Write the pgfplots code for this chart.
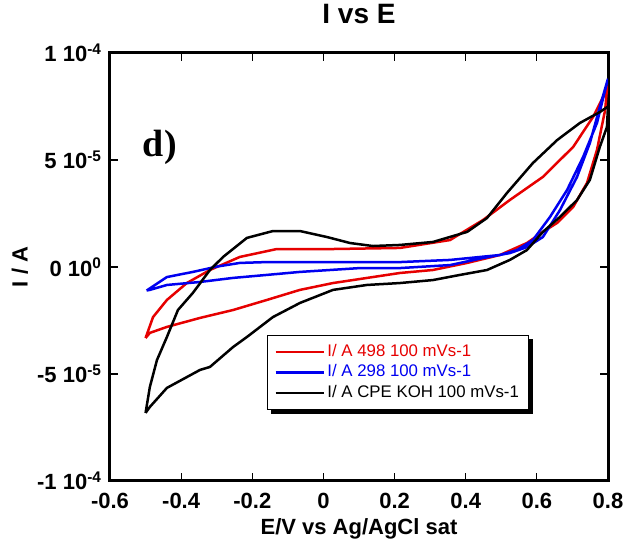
\documentclass[border=0pt]{standalone}
\usepackage{fontspec}
\setmainfont{Liberation Sans}
\newfontfamily\serifb{Liberation Serif}
\usepackage{pgfplots}
\pgfplotsset{compat=1.18}
\usetikzlibrary{calc,backgrounds}
\definecolor{cvred}{RGB}{230,0,0}
\definecolor{cvblue}{RGB}{0,0,240}
\begin{document}
\begin{tikzpicture}
\begin{axis}[
  scale only axis, width=498pt, height=428pt,
  xmin=-0.6, xmax=0.8, ymin=-1e-4, ymax=1e-4,
  xtick={-0.6,-0.4,-0.2,0,0.2,0.4,0.6,0.8},
  xticklabels={-0.6,-0.4,-0.2,0,0.2,0.4,0.6,0.8},
  ytick={-1e-4,-5e-5,0,5e-5,1e-4},
  yticklabels={-1 10\textsuperscript{-4},-5 10\textsuperscript{-5},0 10\textsuperscript{0},5 10\textsuperscript{-5},1 10\textsuperscript{-4}},
  scaled ticks=false,
  tick align=inside, major tick length=8pt,
  every tick/.style={black, line width=1.2pt},
  axis line style={line width=3pt},
  ticklabel style={font=\bfseries\fontsize{22}{22}\selectfont},
  xticklabel style={anchor=base, yshift=-28pt},
  yticklabel style={xshift=-5pt},
  title={\fontsize{28}{28}\selectfont\bfseries I vs E},
  title style={at={(rel axis cs:0.5,1)}, anchor=base, yshift=23pt},
  xlabel={E/V vs Ag/AgCl sat},
  ylabel={I / A},
  xlabel style={font=\bfseries\fontsize{22}{22}\selectfont, at={(rel axis cs:0.5,0)}, anchor=base, yshift=-54pt},
  ylabel style={font=\bfseries\fontsize{22}{22}\selectfont, at={(rel axis cs:0,0.5)}, anchor=center, yshift=90pt},
  legend cell align=left,
  legend style={at={(rel axis cs:0.315,0.341)}, anchor=north west, draw=black, line width=1.2pt,
    fill=white, name=leg,
    font=\fontsize{16.8}{16.8}\selectfont, row sep=0pt, inner xsep=7pt, inner ysep=6pt,
    nodes={inner sep=2.5pt, text height=12pt, text depth=3.5pt}},
  legend image code/.code={\draw[#1, line width=2.5pt] (0pt,0pt) -- (48pt,0pt);},
]
\coordinate (SW) at (rel axis cs:0,0);
\coordinate (NE) at (rel axis cs:1,1);
\addplot[cvred, line width=2.5pt] coordinates {
(-0.500,-3.32e-5) (-0.479,-2.34e-5) (-0.440,-1.54e-5) (-0.384,-0.75e-5) (-0.319,-0.14e-5) (-0.235,0.47e-5) (-0.131,0.84e-5) (0.027,0.84e-5) (0.215,0.89e-5) (0.356,1.26e-5) (0.449,2.20e-5) (0.524,3.13e-5) (0.617,4.21e-5) (0.702,5.61e-5) (0.758,7.01e-5) (0.786,7.94e-5) (0.797,8.30e-5) (0.792,7.34e-5) (0.769,5.47e-5) (0.741,3.93e-5) (0.702,2.80e-5) (0.657,2.06e-5) (0.617,1.64e-5) (0.572,1.12e-5) (0.496,0.56e-5) (0.404,0.19e-5) (0.308,-0.14e-5) (0.215,-0.28e-5) (0.027,-0.75e-5) (-0.066,-1.07e-5) (-0.159,-1.54e-5) (-0.254,-2.01e-5) (-0.347,-2.38e-5) (-0.440,-2.80e-5) (-0.488,-3.08e-5) (-0.500,-3.32e-5)
};
\addlegendentry{\textcolor{cvred}{I/ A 498 100 mVs-1}}
\addplot[cvblue, line width=2.5pt] coordinates {
(-0.497,-1.10e-5) (-0.440,-0.47e-5) (-0.367,-0.23e-5) (-0.299,0.02e-5) (-0.235,0.19e-5) (-0.159,0.23e-5) (0.066,0.23e-5) (0.215,0.23e-5) (0.356,0.33e-5) (0.496,0.56e-5) (0.544,0.79e-5) (0.589,1.26e-5) (0.637,2.34e-5) (0.685,3.60e-5) (0.730,5.14e-5) (0.769,6.73e-5) (0.797,8.60e-5) (0.800,8.80e-5) (0.777,7.48e-5) (0.749,5.79e-5) (0.713,4.21e-5) (0.665,2.66e-5) (0.617,1.40e-5) (0.572,0.93e-5) (0.524,0.65e-5) (0.449,0.42e-5) (0.356,0.09e-5) (0.215,-0.05e-5) (0.103,-0.05e-5) (-0.066,-0.23e-5) (-0.159,-0.37e-5) (-0.254,-0.51e-5) (-0.347,-0.70e-5) (-0.440,-0.84e-5) (-0.488,-1.07e-5) (-0.497,-1.10e-5)
};
\addlegendentry{\textcolor{cvblue}{I/ A 298 100 mVs-1}}
\addplot[black, line width=2.5pt] coordinates {
(-0.500,-6.82e-5) (-0.488,-5.61e-5) (-0.468,-4.35e-5) (-0.440,-3.27e-5) (-0.409,-2.01e-5) (-0.367,-1.21e-5) (-0.319,-0.14e-5) (-0.282,0.47e-5) (-0.215,1.36e-5) (-0.142,1.68e-5) (-0.066,1.68e-5) (0.010,1.40e-5) (0.075,1.12e-5) (0.139,0.98e-5) (0.215,1.03e-5) (0.308,1.17e-5) (0.404,1.64e-5) (0.460,2.29e-5) (0.516,3.46e-5) (0.589,4.86e-5) (0.657,5.93e-5) (0.721,6.73e-5) (0.777,7.24e-5) (0.800,7.50e-5) (0.797,6.54e-5) (0.777,5.61e-5) (0.749,4.07e-5) (0.713,3.13e-5) (0.665,2.34e-5) (0.617,1.64e-5) (0.572,0.79e-5) (0.524,0.33e-5) (0.460,-0.14e-5) (0.384,-0.37e-5) (0.308,-0.61e-5) (0.215,-0.75e-5) (0.122,-0.84e-5) (0.027,-1.07e-5) (-0.066,-1.68e-5) (-0.142,-2.34e-5) (-0.215,-3.27e-5) (-0.254,-3.74e-5) (-0.319,-4.67e-5) (-0.347,-4.81e-5) (-0.440,-5.65e-5) (-0.488,-6.54e-5) (-0.500,-6.82e-5)
};
\addlegendentry{I/ A CPE KOH 100 mVs-1}
\node[font=\serifb\bfseries\fontsize{38}{38}\selectfont] at (rel axis cs:0.10,0.78) {d)};
\end{axis}
\begin{scope}[on background layer]
\fill[black] ($(leg.south west)+(4pt,-4pt)$) rectangle ($(leg.north east)+(4pt,-4pt)$);
\end{scope}
\pgfresetboundingbox
\path ($(SW)+(-110pt,-59pt)$) rectangle ($(NE)+(16pt,53pt)$);
\end{tikzpicture}
\end{document}
